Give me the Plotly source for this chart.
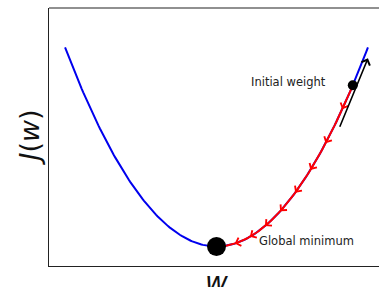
import numpy as np
import plotly.graph_objects as go

# Data
w_curve = np.linspace(-1.0, 1.0, 201)
w_start = 0.9          # initial weight
w_min = 0.0            # global minimum
arrow_w = [0.83, 0.72, 0.62, 0.52, 0.42, 0.32, 0.22, 0.12]   # descent chevrons
tangent_w = [0.81, 1.0]
tangent_J = [0.594, 0.945]

def J(w):
    return np.asarray(w) ** 2

fig = go.Figure()
fig.add_trace(go.Scatter(x=w_curve, y=J(w_curve), mode="lines",
                         line=dict(color="#0000ee", width=2), hoverinfo="skip"))
w_path = np.linspace(w_min, w_start, 91)
fig.add_trace(go.Scatter(x=w_path, y=J(w_path), mode="lines",
                         line=dict(color="#ff0000", width=2), hoverinfo="skip"))
fig.add_trace(go.Scatter(x=[w_start], y=[J(w_start)], mode="markers",
                         marker=dict(color="black", size=10), hoverinfo="skip"))
fig.add_trace(go.Scatter(x=[w_min], y=[J(w_min)], mode="markers",
                         marker=dict(color="black", size=19), hoverinfo="skip"))

anns = []
for wa in arrow_w:
    anns.append(dict(x=wa, y=float(J(wa)), ax=wa + 0.03, ay=float(J(wa + 0.03)),
                     xref="x", yref="y", axref="x", ayref="y", text="",
                     showarrow=True, arrowhead=4, arrowsize=1.1, arrowwidth=1.5,
                     arrowcolor="#ff0000"))
anns.append(dict(x=tangent_w[1], y=tangent_J[1], ax=tangent_w[0], ay=tangent_J[0],
                 xref="x", yref="y", axref="x", ayref="y", text="",
                 showarrow=True, arrowhead=4, arrowsize=1.1, arrowwidth=1.6,
                 arrowcolor="black"))
anns.append(dict(x=0.736, y=0.825, xref="x", yref="y", text="Initial weight",
                 showarrow=False, xanchor="right", yanchor="middle",
                 font=dict(family="DejaVu Sans", size=11.5, color="#222")))
anns.append(dict(x=0.265, y=0.029, xref="x", yref="y", text="Global minimum",
                 showarrow=False, xanchor="left", yanchor="middle",
                 font=dict(family="DejaVu Sans", size=11.5, color="#222")))
anns.append(dict(x=0.0, y=0, xref="x", yref="paper", text="<i>w</i>",
                 showarrow=False, xanchor="center", yanchor="top", yshift=2,
                 font=dict(family="DejaVu Sans", size=28, color="#111")))
anns.append(dict(x=0, y=0.5, xref="paper", yref="paper", text="<i>J</i>(<i>w</i>)",
                 showarrow=False, xanchor="right", yanchor="middle", xshift=-3,
                 textangle=-90,
                 font=dict(family="DejaVu Sans", size=27, color="#111")))

fig.update_layout(
    width=379, height=287,
    margin=dict(l=49, r=0, t=8, b=21),
    paper_bgcolor="white", plot_bgcolor="white",
    showlegend=False,
    annotations=anns,
    xaxis=dict(range=[-1.106, 1.073], showgrid=False, zeroline=False,
               showticklabels=False, ticks="", showline=True,
               linecolor="#222", linewidth=1.2),
    yaxis=dict(range=[-0.098, 1.198], showgrid=False, zeroline=False,
               showticklabels=False, ticks="", showline=True,
               linecolor="#222", linewidth=1.2),
    shapes=[dict(type="line", xref="paper", yref="paper", x0=0, x1=1.02, y0=1, y1=1,
                 line=dict(color="#222", width=1.2))],
)
fig.write_html("out.html", config={"displayModeBar": False},
               post_script="document.body.style.margin='0px';document.body.style.overflow='hidden';")
